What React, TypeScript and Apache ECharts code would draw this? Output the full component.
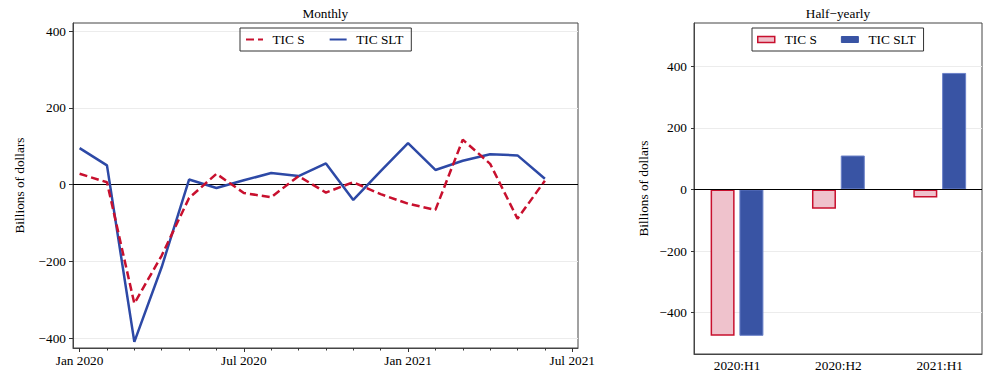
import React, { useEffect, useRef } from "react";
import * as echarts from "echarts";

// ---- Monthly data (Jan 2020 .. Jun 2021) ----
const months = [
  "Jan 2020", "Feb 2020", "Mar 2020", "Apr 2020", "May 2020", "Jun 2020",
  "Jul 2020", "Aug 2020", "Sep 2020", "Oct 2020", "Nov 2020", "Dec 2020",
  "Jan 2021", "Feb 2021", "Mar 2021", "Apr 2021", "May 2021", "Jun 2021",
];
const ticS = [28, 6, -310, -185, -35, 28, -22, -33, 22, -21, 6, -25, -50, -66, 117, 54, -89, 10];
const ticSLT = [95, 50, -410, -215, 13, -9, 11, 30, 22, 55, -40, 35, 108, 38, 62, 79, 76, 15];

// x tick labels (month index -> label)
const xTickIdx = [0, 6, 12, 18];
const xTickLabels = ["Jan 2020", "Jul 2020", "Jan 2021", "Jul 2021"];
const minorTickIdx = Array.from({ length: 19 }, (_, i) => i);

// ---- Half-yearly data ----
const halfCats = ["2020:H1", "2020:H2", "2021:H1"];
const halfS = [-475, -63, -26];
const halfSLT = [-475, 110, 378];

const yTicks = [-400, -200, 0, 200, 400];

const FONT = "Liberation Serif";
const RED = "#C8102E";
const BLUE = "#2D49A6";
const FRAME = "#444";
const GRIDLINE = "#ececec";
const FS = 13.3;

const fmtMinus = (v: number) => (v < 0 ? "\u2212" + Math.abs(v) : String(v));

export default function App() {
  const ref = useRef<HTMLDivElement>(null);

  useEffect(() => {
    if (!ref.current) return;
    const chart = echarts.init(ref.current, undefined, { renderer: "svg" });

    const labelStyle = { fontFamily: FONT, fontSize: FS, color: "#000" };

    const option: any = {
      animation: false,
      backgroundColor: "#fff",
      textStyle: { fontFamily: FONT },
      graphic: [
        {
          type: "text",
          x: 325.3,
          y: 13,
          style: { text: "Monthly", fontFamily: FONT, fontSize: FS, fill: "#000", align: "center", verticalAlign: "middle" },
        },
        {
          type: "text",
          x: 838,
          y: 13,
          style: { text: "Half\u2212yearly", fontFamily: FONT, fontSize: FS, fill: "#000", align: "center", verticalAlign: "middle" },
        },
      ],
      legend: [
        {
          left: 240,
          top: 28,
          orient: "horizontal",
          padding: [5, 8, 5, 5],
          itemGap: 24,
          itemWidth: 17,
          itemHeight: 13,
          borderColor: "#333",
          borderWidth: 1,
          data: ["TIC S", "TIC SLT"],
          itemStyle: { color: "rgba(0,0,0,0)", opacity: 0, borderWidth: 0 },
          textStyle: { ...labelStyle, padding: [0, 0, 0, 4.5] },
          selectedMode: false,
        },
        {
          left: 752,
          top: 28,
          orient: "horizontal",
          padding: [5, 8, 5, 5],
          itemGap: 24,
          itemWidth: 17,
          itemHeight: 6,
          borderColor: "#333",
          borderWidth: 1,
          data: [
            { name: "TIC S (half-yearly)", icon: "rect", itemStyle: { color: "#EFC2CC", borderColor: RED, borderWidth: 1.5 } },
            { name: "TIC SLT (half-yearly)", icon: "rect", itemStyle: { color: "#3954A4", borderColor: "#3954A4", borderWidth: 1 } },
          ],
          formatter: (n: string) => n.replace(" (half-yearly)", ""),
          textStyle: { ...labelStyle, padding: [0, 0, 0, 5] },
          selectedMode: false,
        },
      ],
      grid: [
        { left: 73, top: 23, width: 505, height: 325, show: true, borderColor: FRAME, borderWidth: 1, backgroundColor: "transparent" },
        { left: 694, top: 23, width: 288, height: 331, show: true, borderColor: FRAME, borderWidth: 1, backgroundColor: "transparent" },
      ],
      xAxis: [
        {
          type: "value",
          gridIndex: 0,
          position: "bottom",
          min: -0.241,
          max: 18.21,
          axisLine: { show: true, onZero: false, lineStyle: { color: FRAME } },
          axisTick: { show: true, customValues: xTickIdx, length: 4, lineStyle: { color: "#333" } },
          axisLabel: {
            show: true,
            customValues: xTickIdx,
            formatter: (v: number) => xTickLabels[xTickIdx.indexOf(Math.round(v))] ?? "",
            margin: 6,
            ...labelStyle,
          },
          splitLine: { show: false },
        },
        {
          type: "value",
          gridIndex: 0,
          position: "bottom",
          min: -0.241,
          max: 18.21,
          axisLine: { show: false, onZero: false },
          axisTick: { show: true, customValues: minorTickIdx, length: 2.5, lineStyle: { color: "#333" } },
          axisLabel: { show: false },
          splitLine: { show: false },
        },
        {
          type: "value",
          gridIndex: 1,
          position: "bottom",
          min: -0.4243,
          max: 2.417,
          axisLine: { show: true, onZero: false, lineStyle: { color: FRAME } },
          axisTick: { show: false },
          axisLabel: {
            show: true,
            customValues: [0, 1, 2],
            formatter: (v: number) => halfCats[Math.round(v)] ?? "",
            margin: 5,
            ...labelStyle,
          },
          splitLine: { show: false },
        },
      ],
      yAxis: [
        {
          type: "value",
          gridIndex: 0,
          min: -426,
          max: 421,
          axisLine: { show: true, onZero: false, lineStyle: { color: FRAME } },
          axisTick: { show: true, customValues: yTicks, length: 4, lineStyle: { color: "#333" } },
          axisLabel: { show: true, customValues: yTicks, formatter: fmtMinus, margin: 7, ...labelStyle },
          splitLine: { show: true, lineStyle: { color: GRIDLINE, width: 1 } },
          name: "Billions of dollars",
          nameLocation: "middle",
          nameGap: 47,
          nameTextStyle: labelStyle,
        },
        {
          type: "value",
          gridIndex: 1,
          min: -534,
          max: 540,
          axisLine: { show: true, onZero: false, lineStyle: { color: FRAME } },
          axisTick: { show: true, customValues: yTicks, length: 3, lineStyle: { color: "#333" } },
          axisLabel: { show: true, customValues: yTicks, formatter: fmtMinus, margin: 7, ...labelStyle },
          splitLine: { show: true, lineStyle: { color: GRIDLINE, width: 1 } },
          name: "Billions of dollars",
          nameLocation: "middle",
          nameGap: 44,
          nameTextStyle: labelStyle,
        },
      ],
      series: [
        {
          name: "TIC S",
          type: "line",
          xAxisIndex: 0,
          yAxisIndex: 0,
          data: ticS.map((v, i) => [i, v]),
          symbol: "none",
          z: 4,
          itemStyle: { color: RED },
          lineStyle: { color: RED, width: 2.5, type: [8, 4] },
          markLine: {
            silent: true,
            symbol: "none",
            label: { show: false },
            lineStyle: { color: "#000", width: 1, type: "solid" },
            data: [{ yAxis: 0 }],
            z: 1,
          },
        },
        {
          name: "TIC SLT",
          type: "line",
          xAxisIndex: 0,
          yAxisIndex: 0,
          data: ticSLT.map((v, i) => [i, v]),
          symbol: "none",
          z: 3,
          itemStyle: { color: BLUE },
          lineStyle: { color: BLUE, width: 2.5, type: "solid" },
        },
        {
          name: "TIC S (half-yearly)",
          type: "bar",
          xAxisIndex: 2,
          yAxisIndex: 1,
          data: halfS.map((v, i) => [i, v]),
          barWidth: 24,
          barGap: "20%",
          itemStyle: { color: "#EFC2CC", borderColor: RED, borderWidth: 1.5 },
          markLine: {
            silent: true,
            symbol: "none",
            label: { show: false },
            lineStyle: { color: "#000", width: 1, type: "solid" },
            data: [{ yAxis: 0 }],
          },
        },
        {
          name: "TIC SLT (half-yearly)",
          type: "bar",
          xAxisIndex: 2,
          yAxisIndex: 1,
          data: halfSLT.map((v, i) => [i, v]),
          barWidth: 24,
          barGap: "20%",
          itemStyle: { color: "#3954A4", borderColor: "#6A80C8", borderWidth: 1 },
        },
      ],
    };

    chart.setOption(option);
    return () => chart.dispose();
  }, []);

  return (
    <div
      ref={ref}
      style={{ position: "absolute", left: 0, top: 0, width: 1000, height: 384, background: "#fff" }}
    />
  );
}
